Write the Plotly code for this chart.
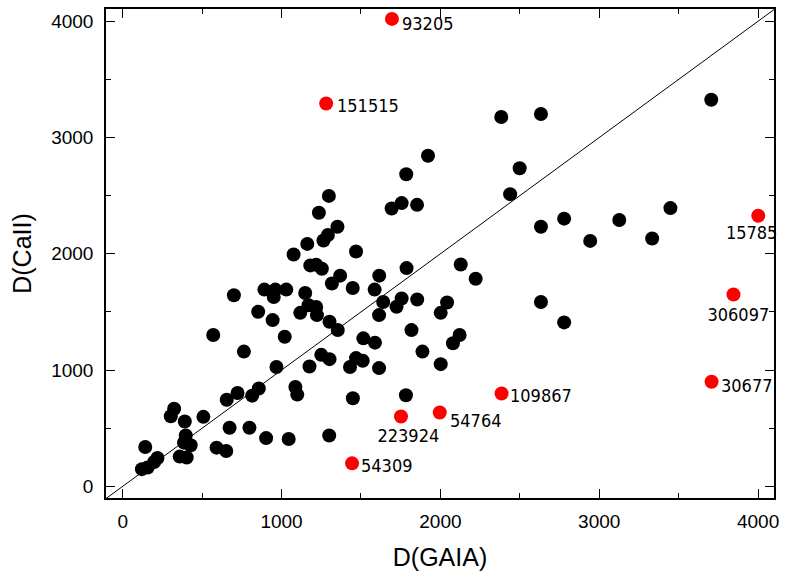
import plotly.graph_objects as go

# ---------------- data ----------------
gaia_black = [3705, 2383, 2633, 2499, 2439, 2633, 2779, 2943, 3126, 3333, 3448, 2633, 2779,
              1922, 1785, 1693, 1756, 1853, 1298, 1235, 1352, 1264, 1292, 1162, 1076, 1469,
              1181, 1218, 1254, 1369, 1317, 1448, 1615, 1586, 1787, 892, 961, 1030, 951, 1149,
              700, 570, 763, 853, 944, 1020, 968, 1118, 1170, 1218, 1223, 1302, 1354, 1515,
              1588, 1250, 1302, 1176, 1469, 1511, 1431, 1614, 1087, 1099, 857, 815, 723, 655,
              1449, 1783, 1045, 1300, 142, 121, 157, 198, 219, 303, 324, 391, 397, 386, 428,
              359, 403, 508, 673, 591, 652, 798, 903, 1887, 1818, 2002, 2121, 2079, 2128, 2222,
              1640, 1756, 1724, 1854, 2042, 2002, 1614]
caii_black = [3325, 3176, 3202, 2735, 2513, 2233, 2302, 2111, 2291, 2131, 2393, 1586, 1410,
              2843, 2684, 2390, 2436, 2421, 2498, 2353, 2233, 2114, 2162, 2085, 1994, 2020,
              1900, 1906, 1872, 1812, 1744, 1706, 1812, 1692, 1877, 1692, 1692, 1692, 1629, 1663,
              1644, 1302, 1159, 1501, 1430, 1287, 1026, 1492, 1558, 1543, 1473, 1416, 1345, 1273,
              1236, 1131, 1094, 1031, 1103, 1080, 1026, 1017, 855, 789, 842, 780, 803, 745,
              758, 783, 407, 438, 339, 148, 162, 210, 244, 603, 667, 558, 438, 376, 353,
              256, 248, 598, 504, 333, 304, 504, 415, 1159, 1344, 1051, 1302, 1231, 1908, 1786,
              1586, 1616, 1544, 1607, 1581, 1492, 1473]

gaia_red = [1695, 1281, 4001, 3845, 3707, 2385, 1996, 1752, 1444]
caii_red = [4020, 3293, 2327, 1650, 900, 798, 635, 601, 198]
red_labels = ["93205", "151515", "15785", "306097", "30677", "109867", "54764", "223924", "54309"]

diag = [-200, 4200]

x_ticks = [0, 1000, 2000, 3000, 4000]
y_ticks = [0, 1000, 2000, 3000, 4000]

# ---------------- style ----------------
label_place = {  # anchor, xshift, yshift (pixels, relative to the point)
    "93205": ("left", 8, -5),
    "151515": ("left", 9, -2),
    "15785": ("center", -7, -17),
    "306097": ("center", 5, -20),
    "30677": ("left", 7, -4),
    "109867": ("left", 6, -2),
    "54764": ("left", 8, -8),
    "223924": ("center", 7, -19),
    "54309": ("left", 7, -2),
}
label_font = dict(family="DejaVu Sans", size=18, color="black")
axis_font = "Liberation Sans, Arial, sans-serif"

fig = go.Figure()
fig.add_trace(go.Scatter(x=diag, y=diag, mode="lines",
                         line=dict(color="black", width=1), hoverinfo="skip", showlegend=False))
fig.add_trace(go.Scatter(x=gaia_black, y=caii_black, mode="markers",
                         marker=dict(color="black", size=14, line=dict(width=0)), showlegend=False))
fig.add_trace(go.Scatter(x=gaia_red, y=caii_red, mode="markers",
                         marker=dict(color="#ff0000", size=14, line=dict(width=0)), showlegend=False))

for gx, cy, lab in zip(gaia_red, caii_red, red_labels):
    anc, xs, ys = label_place[lab]
    fig.add_annotation(x=gx, y=cy, text=lab, showarrow=False, xanchor=anc, align=anc,
                       yanchor="middle", xshift=xs, yshift=ys, font=label_font)

axis_common = dict(showgrid=False, zeroline=False, showline=True, linecolor="black", linewidth=1.5,
                   mirror="ticks", ticks="inside", ticklen=9, tickwidth=1.2, tickcolor="black",
                   minor=dict(ticks="inside", ticklen=5, tickwidth=1.2, tickcolor="black", dtick=500),
                   tickfont=dict(family=axis_font, size=19, color="black"))

fig.update_xaxes(range=[-105, 4100], tickvals=x_ticks, ticklabelstandoff=5,
                 title=dict(text="D(GAIA)", font=dict(family=axis_font, size=25, color="black"), standoff=18),
                 **axis_common)
fig.update_yaxes(range=[-100, 4105], tickvals=y_ticks, ticklabelstandoff=7,
                 title=dict(text="D(CaII)", font=dict(family=axis_font, size=25, color="black"), standoff=12),
                 **axis_common)

fig.update_layout(width=786, height=574, margin=dict(l=106, r=10, t=7, b=75),
                  plot_bgcolor="white", paper_bgcolor="white")

page_css = ("var s=document.createElement('style');"
            "s.innerHTML='html,body{margin:0;padding:0;overflow:hidden}"
            " .annotation-text{font-stretch:condensed}';"
            "document.head.appendChild(s);")
fig.write_html("out.html", post_script=page_css, config={"displayModeBar": False})
